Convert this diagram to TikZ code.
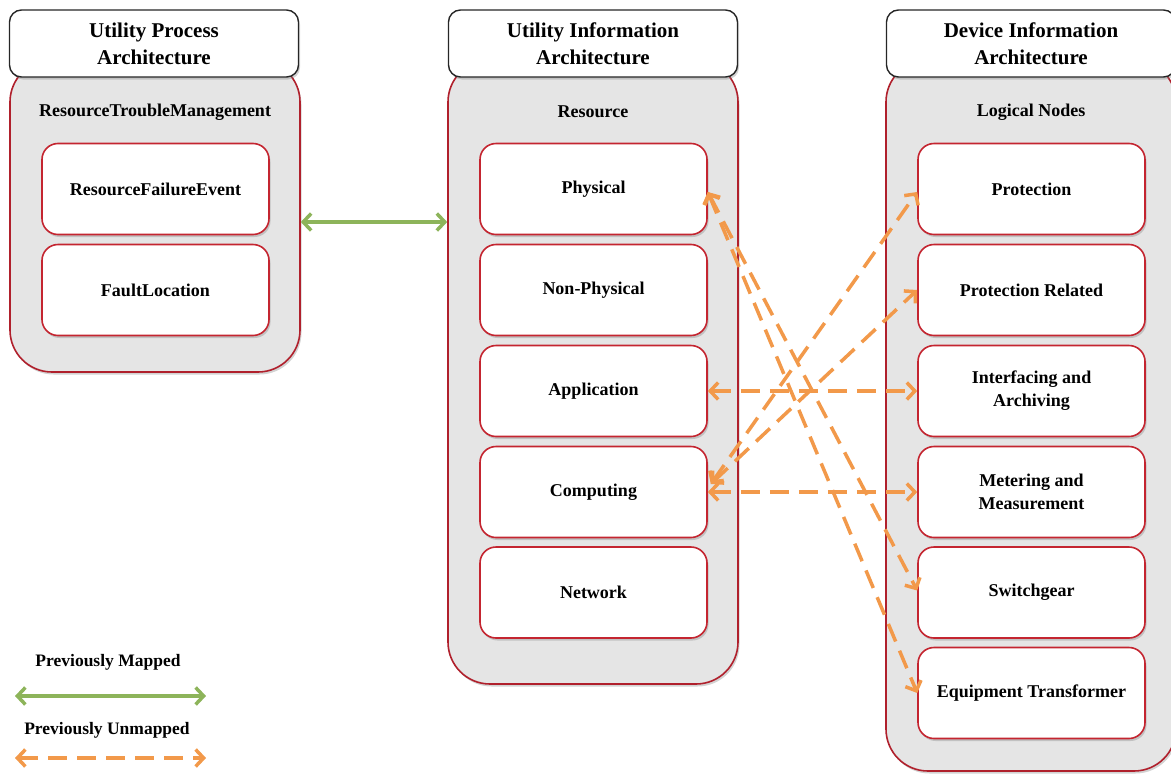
\documentclass[tikz,border=0pt]{standalone}
\usepackage{fontspec}
\setmainfont{Liberation Serif}
\usetikzlibrary{arrows.meta,shadows}

\definecolor{boxred}{HTML}{C42530}
\definecolor{panelred}{HTML}{B0202C}
\definecolor{panelgray}{HTML}{E5E5E5}
\definecolor{mapgreen}{HTML}{8DB45A}
\definecolor{maporange}{HTML}{F2994A}

\tikzset{
  softshadow/.style={drop shadow={opacity=0.35, shadow xshift=1.5pt, shadow yshift=-2.5pt}},
  panel/.style={draw=panelred, line width=1.6pt, fill=panelgray, rounded corners=42pt,
    minimum width=290pt, softshadow},
  header/.style={draw=black!85, line width=1.4pt, fill=white, rounded corners=12pt,
    minimum width=289pt, minimum height=67pt, align=center,
    font=\fontsize{21}{27}\selectfont\bfseries, softshadow},
  item/.style={draw=boxred, line width=1.6pt, fill=white, rounded corners=16pt,
    minimum width=227pt, minimum height=91pt, align=center,
    font=\fontsize{18}{23}\selectfont\bfseries, softshadow},
  paneltitle/.style={font=\fontsize{18}{22}\selectfont\bfseries},
  legendtext/.style={font=\fontsize{17.5}{22}\selectfont\bfseries},
  mapped/.style={draw=mapgreen, line width=3.5pt,
    {Straight Barb[length=8pt,width=17pt]}-{Straight Barb[length=8pt,width=17pt]}},
  unmapped/.style={draw=maporange, line width=3.5pt, dash pattern=on 19pt off 10pt,
    {Straight Barb[length=8pt,width=17pt]}-{Straight Barb[length=8pt,width=17pt]}},
}

\begin{document}
\begin{tikzpicture}[x=1pt,y=-1pt]
\useasboundingbox (0,0) rectangle (1171,774);

% grey panels behind each column
\node[panel, minimum height=312pt] (lp) at (155,216) {};
\node[panel, minimum height=624pt] (mp) at (593,372) {};
\node[panel, minimum height=711pt] (rp) at (1031,415.5) {};

% column headers
\node[header] (lh) at (154,43.5) {Utility Process\\Architecture};
\node[header] (mh) at (593,43.5) {Utility Information\\Architecture};
\node[header] (rh) at (1031,43.5) {Device Information\\Architecture};

% panel titles
\node[paneltitle] (lt) at (155,112) {ResourceTroubleManagement};
\node[paneltitle] (mt) at (593,112) {Resource};
\node[paneltitle] (rt) at (1031,112) {Logical Nodes};

% process architecture
\node[item] (rfe) at (155.5,189) {ResourceFailureEvent};
\node[item] (fl)  at (155.5,290) {FaultLocation};

% information architecture
\node[item] (phys) at (593.5,189)   {Physical};
\node[item] (nphy) at (593.5,290)   {Non-Physical};
\node[item] (app)  at (593.5,391)   {Application};
\node[item] (comp) at (593.5,492)   {Computing};
\node[item] (net)  at (593.5,592.5) {Network};

% logical nodes
\node[item] (prot) at (1031.5,189)   {Protection};
\node[item] (prel) at (1031.5,290)   {Protection Related};
\node[item] (inta) at (1031.5,391)   {Interfacing and\\Archiving};
\node[item] (meas) at (1031.5,492)   {Metering and\\Measurement};
\node[item] (swg)  at (1031.5,592.5) {Switchgear};
\node[item] (etr)  at (1031.5,693)   {Equipment Transformer};

% mappings
\draw[mapped] ([yshift=-6pt]lp.east) -- ([yshift=150pt]mp.west);

\draw[unmapped] (app.east) -- (inta.west);
\draw[unmapped] (comp.east) -- (meas.west);
\draw[unmapped] ([yshift=-3pt]phys.east) -- ([yshift=2pt]swg.west);
\draw[unmapped] ([yshift=-3pt]phys.east) -- (etr.west);
\draw[unmapped] ([yshift=8pt,xshift=3pt]comp.east) -- ([yshift=-3pt]prot.west);
\draw[unmapped] ([yshift=8pt,xshift=3pt]comp.east) -- (prel.west);

% legend
\node[legendtext] (lm) at (108,662) {Previously Mapped};
\coordinate (lma) at (15,696);
\coordinate (lmb) at (206,696);
\draw[mapped] (lma) -- (lmb);
\node[legendtext] (lu) at (107,730) {Previously Unmapped};
\coordinate (lua) at (15,758);
\coordinate (lub) at (206,758);
\draw[unmapped] (lua) -- (lub);
\end{tikzpicture}
\end{document}
